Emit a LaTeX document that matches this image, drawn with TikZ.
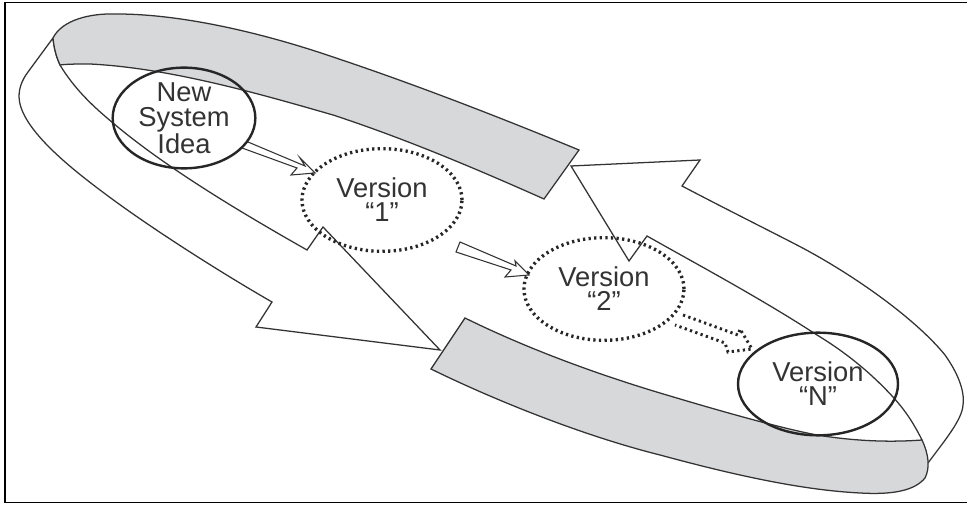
\documentclass[tikz,border=0pt]{standalone}
\usepackage{fontspec}
\setmainfont{Liberation Sans}
\usetikzlibrary{shapes.geometric}
\definecolor{ink}{gray}{0.2}
\definecolor{band}{RGB}{215,216,218}
\tikzset{
  x=0.75pt,y=-0.75pt,
  bandline/.style={draw=ink,line width=0.95pt,line join=miter},
  graybox/.style={bandline,fill=band},
  hollowarrow/.style={draw=ink,line width=0.8pt,line join=miter,fill=white},
  dotline/.style={draw=black!85,line width=2.5pt,dash pattern=on 1.7pt off 2.5pt},
  dotarrow/.style={draw=black!85,line width=2.2pt,dash pattern=on 1.7pt off 2.5pt},
  circ/.style={ellipse,inner sep=0pt,text=ink,font=\fontsize{20.5pt}{18pt}\selectfont,align=center,minimum width=120pt,minimum height=77pt},
  solidcirc/.style={circ,draw=black!85,line width=1.8pt},
  dotcirc/.style={circ,dotline},
}
\begin{document}
\begin{tikzpicture}
\useasboundingbox (0,0) rectangle (967,505);
\fill[white] (0,0) rectangle (967,505);
\draw[black,line width=1pt] (967,2.5) -- (5,2.5) -- (5,502.5) -- (967,502.5);
% left white band with arrow head
\draw[bandline] (53,38) .. controls (54,48) and (56,56) .. (60,65) .. controls (75,90) and (95,108) .. (113,123) .. controls (165,167) and (240,212) .. (307,250)
  -- (323,227) -- (440,350) -- (256,327) -- (272,302) .. controls (225,275) and (150,228) .. (100,190) .. controls (60,160) and (20,125) .. (19,97) .. controls (19,88) and (22,80) .. (28,72) -- (53,38);
% upper gray band
\draw[graybox] (53,38) .. controls (62,20) and (90,13) .. (117,14) .. controls (180,14) and (260,32) .. (333,57) .. controls (390,76) and (470,105) .. (579,150)
  -- (544,199) .. controls (470,166) and (400,137) .. (333,115) .. controls (260,94) and (170,68) .. (90,64) .. controls (78,64) and (68,64) .. (60,65) .. controls (56,56) and (54,48) .. (53,38) -- cycle;
% right white band with arrow head
\draw[bandline] (922,440) .. controls (912,420) and (903,408) .. (893,397) .. controls (870,372) and (845,352) .. (817,335) .. controls (760,298) and (700,266) .. (647,236)
  -- (629,261) -- (571,166) -- (700,160) -- (682,186) .. controls (720,206) and (760,226) .. (793,243) .. controls (850,272) and (915,318) .. (945,355) .. controls (957,372) and (965,390) .. (963,405) .. controls (962,420) and (945,440) .. (928,463);
% lower gray band
\draw[graybox] (465,318) .. controls (530,350) and (600,375) .. (660,393) .. controls (720,411) and (780,428) .. (817,435) .. controls (860,442) and (895,442) .. (922,440)
  .. controls (929,455) and (930,468) .. (925,478) .. controls (915,490) and (895,495) .. (860,493) .. controls (800,490) and (730,474) .. (660,455) .. controls (580,435) and (490,398) .. (431,369) -- cycle;
% small arrows
\draw[hollowarrow] (248,142) -- (305,166) -- (300,158) -- (315,173) -- (291,175) -- (297,168) -- (242,148);
\draw[hollowarrow] (460,242) -- (516,266) -- (515,261) -- (529,275) -- (505,277) -- (511,270) -- (456,252) -- cycle;
\draw[dotarrow] (683,315) -- (738,335) -- (740,329) -- (752,349) -- (728,352) -- (725,343) -- (675,325);
% circles
\node[solidcirc,minimum width=107pt,minimum height=67pt,font=\fontsize{20.5pt}{19pt}\selectfont] (idea) at (184,118) {New\\System\\Idea};
\node[dotcirc] (v1) at (382,200) {Version\\“1”};
\node[dotcirc] (v2) at (604,289) {Version\\“2”};
\node[solidcirc] (vn) at (818,384) {Version\\“N”};
\end{tikzpicture}
\end{document}
